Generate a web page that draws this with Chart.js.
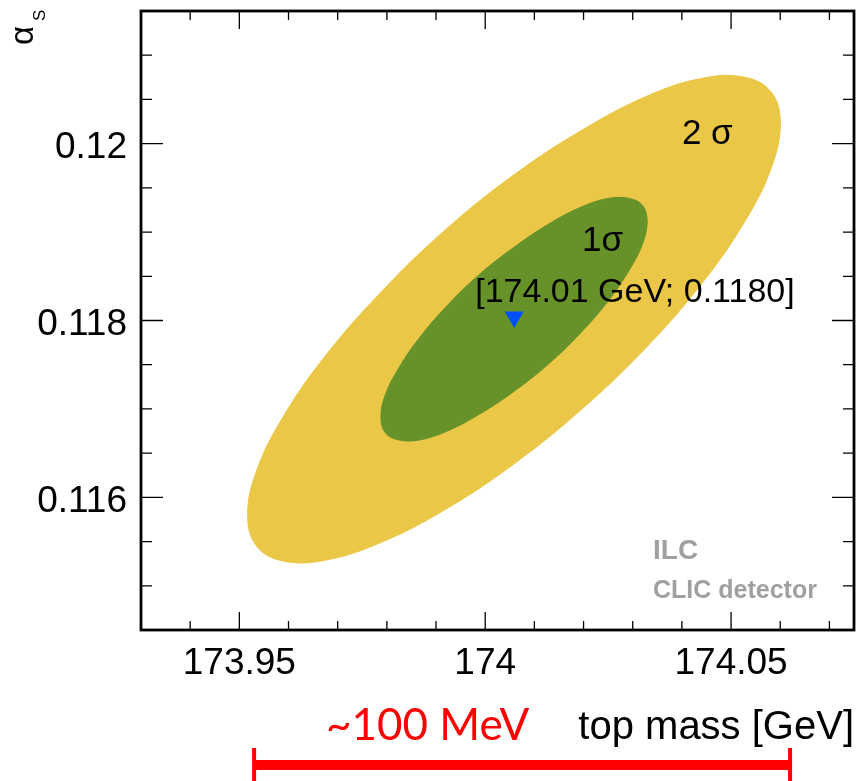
<!DOCTYPE html>
<html>
<head>
<meta charset="utf-8">
<script src="https://cdn.jsdelivr.net/npm/chart.js@4.4.1/dist/chart.umd.min.js"></script>
<style>
  html, body { margin: 0; padding: 0; background: #ffffff; }
</style>
</head>
<body>
<canvas id="fit" width="865" height="781"></canvas>
<script>
// best-fit point (top mass in GeV, alpha_s)
const bestMass = 174.0059;
const bestAlpha = 0.11804;

// 1 sigma contour outline, 24 points around the ring
const sigma1Mass = [174.0329, 174.0320, 174.0293, 174.0250, 174.0194, 174.0129, 174.0059, 173.9988,
                    173.9923, 173.9867, 173.9824, 173.9797, 173.9788, 173.9797, 173.9824, 173.9867,
                    173.9923, 173.9988, 174.0059, 174.0129, 174.0194, 174.0250, 174.0293, 174.0320];
const sigma1Alpha = [0.11912, 0.11930, 0.11938, 0.11938, 0.11928, 0.11909, 0.11883, 0.11852,
                     0.11817, 0.11781, 0.11746, 0.11716, 0.11691, 0.11673, 0.11665, 0.11665,
                     0.11675, 0.11694, 0.11720, 0.11751, 0.11786, 0.11822, 0.11857, 0.11887];

// 2 sigma contour outline, same order
const sigma2Mass = [174.0600, 174.0582, 174.0528, 174.0442, 174.0330, 174.0199, 174.0059, 173.9918,
                    173.9788, 173.9675, 173.9589, 173.9535, 173.9517, 173.9535, 173.9589, 173.9675,
                    173.9788, 173.9918, 174.0059, 174.0199, 174.0330, 174.0442, 174.0528, 174.0582];
const sigma2Alpha = [0.12023, 0.12058, 0.12075, 0.12074, 0.12054, 0.12016, 0.11965, 0.11902,
                     0.11832, 0.11760, 0.11691, 0.11630, 0.11580, 0.11545, 0.11528, 0.11529,
                     0.11549, 0.11586, 0.11638, 0.11701, 0.11771, 0.11843, 0.11912, 0.11973];

// axis ticks
const xMajor = [173.95, 174, 174.05];
const xMinor = [173.94, 173.96, 173.97, 173.98, 173.99, 174.01, 174.02, 174.03, 174.04, 174.06, 174.07];
const yMajor = [0.116, 0.118, 0.12];
const yMinor = [0.115, 0.1155, 0.1165, 0.117, 0.1175, 0.1185, 0.119, 0.1195, 0.1205, 0.121];

// mass span marked under the axis
const spanMass = [173.953, 174.062];

const YELLOW = '#ebc748';
const GREEN = '#67922a';

// closed ring: wrap one point on each side so the spline joins smoothly
function ring(xs, ys) {
  const pts = xs.map((x, i) => ({ x, y: ys[i] }));
  const n = pts.length;
  return [pts[n - 1], ...pts, pts[0], pts[1]];
}

// keep the plot frame exactly where the layout padding puts it
function noEdgePadding(s) {
  s.paddingTop = 0;
  s.paddingBottom = 0;
  s.paddingLeft = 0;
  s.paddingRight = 0;
}

const decor = {
  id: 'decor',
  afterDatasetsDraw(chart) {
    const { ctx, chartArea: a, scales: { x, y } } = chart;
    ctx.save();

    // contour labels
    ctx.fillStyle = '#000';
    ctx.textAlign = 'left';
    ctx.textBaseline = 'alphabetic';
    ctx.font = '35px "Liberation Sans"';
    ctx.fillText('2 σ', x.getPixelForValue(174.04), y.getPixelForValue(0.12));
    ctx.fillText('1σ', x.getPixelForValue(174.0197), y.getPixelForValue(0.11879));

    const bx = x.getPixelForValue(bestMass);
    const by = y.getPixelForValue(bestAlpha);
    ctx.font = '34px "Liberation Sans"';
    ctx.fillText('[' + bestMass.toFixed(2) + ' GeV; ' + bestAlpha.toFixed(4) + ']', bx - 39, by - 15);

    // experiment tags
    ctx.fillStyle = '#a0a0a0';
    ctx.font = 'bold 28px "Liberation Sans"';
    ctx.fillText('ILC', 653, 559);
    ctx.font = 'bold 25px "Liberation Sans"';
    ctx.fillText('CLIC detector', 653, 598);

    // frame and inward ticks on all four sides
    ctx.strokeStyle = '#000';
    ctx.lineWidth = 1.3;
    ctx.beginPath();
    for (const v of xMajor.concat(xMinor)) {
      const len = xMajor.includes(v) ? 18 : 9;
      const px = x.getPixelForValue(v);
      ctx.moveTo(px, a.bottom); ctx.lineTo(px, a.bottom - len);
      ctx.moveTo(px, a.top); ctx.lineTo(px, a.top + len);
    }
    for (const v of yMajor.concat(yMinor)) {
      const len = yMajor.includes(v) ? 22 : 11;
      const py = y.getPixelForValue(v);
      ctx.moveTo(a.left, py); ctx.lineTo(a.left + len, py);
      ctx.moveTo(a.right, py); ctx.lineTo(a.right - len, py);
    }
    ctx.stroke();
    ctx.lineWidth = 2.8;
    ctx.strokeRect(a.left, a.top, a.right - a.left, a.bottom - a.top);

    // alpha_s axis label, rotated
    ctx.save();
    ctx.translate(33, 45);
    ctx.rotate(-Math.PI / 2);
    ctx.fillStyle = '#000';
    ctx.font = '33px "Liberation Sans"';
    ctx.fillText('α', 0, 0);
    ctx.font = '17px "Liberation Sans"';
    ctx.fillText('S', 24, 12);
    ctx.restore();

    // red span bar below the axis
    const x0 = x.getPixelForValue(spanMass[0]);
    const x1 = x.getPixelForValue(spanMass[1]);
    ctx.fillStyle = '#ff0000';
    ctx.fillRect(x0, 760, x1 - x0, 10);
    ctx.fillRect(x0 - 2, 748, 4, 40);
    ctx.fillRect(x1 - 2, 748, 4, 40);
    ctx.font = '44px Lato';
    ctx.fillText('~100 MeV', 326, 740);

    ctx.restore();
  }
};

Chart.defaults.font.family = '"Liberation Sans", Arial, sans-serif';

new Chart(document.getElementById('fit'), {
  type: 'line',
  data: {
    datasets: [
      {
        label: 'best fit',
        data: [{ x: bestMass, y: bestAlpha }],
        showLine: false,
        pointStyle: 'triangle',
        pointRotation: 180,
        pointRadius: 11,
        pointBackgroundColor: '#0050ff',
        pointBorderColor: '#0050ff',
        pointBorderWidth: 0
      },
      {
        label: '1 sigma',
        data: ring(sigma1Mass, sigma1Alpha),
        fill: 'shape',
        backgroundColor: GREEN,
        borderColor: GREEN,
        borderWidth: 1,
        pointRadius: 0,
        tension: 0.4
      },
      {
        label: '2 sigma',
        data: ring(sigma2Mass, sigma2Alpha),
        fill: 'shape',
        backgroundColor: YELLOW,
        borderColor: YELLOW,
        borderWidth: 1,
        pointRadius: 0,
        tension: 0.4
      }
    ]
  },
  options: {
    responsive: false,
    animation: false,
    events: [],
    layout: { padding: { top: 7, right: 8, left: 0, bottom: 0 } },
    plugins: {
      legend: { display: false },
      tooltip: { enabled: false }
    },
    scales: {
      x: {
        type: 'linear',
        min: 173.93,
        max: 174.075,
        grid: { display: false, drawTicks: false },
        border: { display: false },
        afterBuildTicks: s => { s.ticks = xMajor.map(v => ({ value: v })); },
        afterFit: s => { s.height = 151; noEdgePadding(s); },
        ticks: {
          color: '#000',
          font: { size: 37 },
          padding: 12,
          maxRotation: 0,
          autoSkip: false,
          callback: v => String(v)
        },
        title: {
          display: true,
          text: 'top mass [GeV]',
          align: 'end',
          color: '#000',
          font: { size: 40 },
          padding: { top: 0, bottom: 29 }
        }
      },
      y: {
        min: 0.1145,
        max: 0.1215,
        grid: { display: false, drawTicks: false },
        border: { display: false },
        afterBuildTicks: s => { s.ticks = yMajor.map(v => ({ value: v })); },
        afterFit: s => { s.width = 141; noEdgePadding(s); },
        ticks: {
          color: '#000',
          font: { size: 37 },
          padding: 14,
          labelOffset: 4,
          callback: v => String(v)
        }
      }
    }
  },
  plugins: [decor]
});
</script>
</body>
</html>
